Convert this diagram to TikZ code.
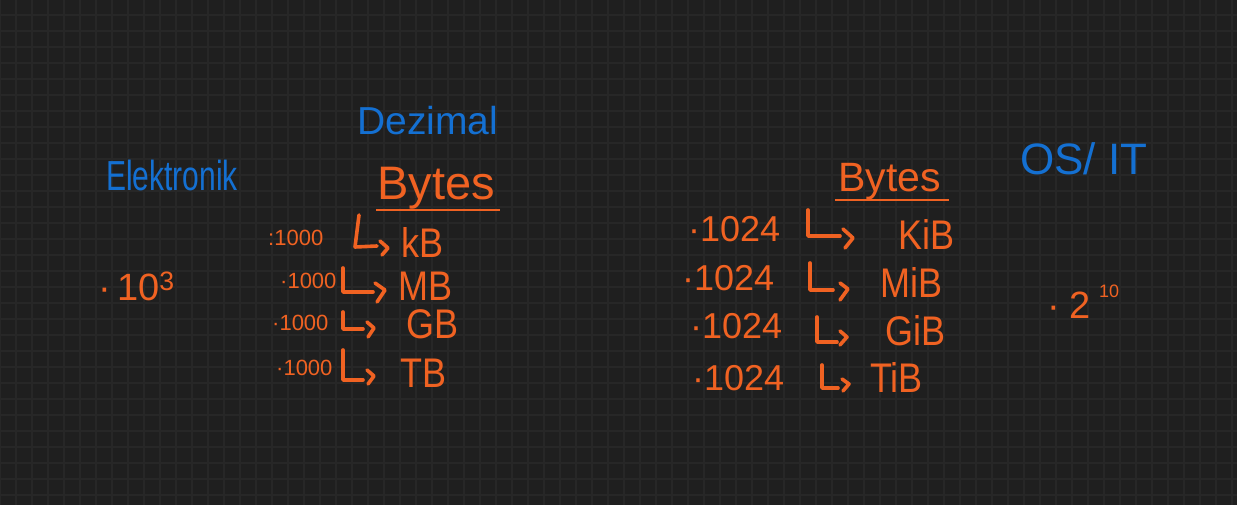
\documentclass[tikz,border=0pt]{standalone}
\usepackage{fontspec}
\setmainfont{Liberation Sans}
\usetikzlibrary{positioning}
\definecolor{board}{HTML}{1F1F1F}
\definecolor{gridline}{HTML}{272727}
\definecolor{penblue}{HTML}{1470D2}
\definecolor{penorange}{HTML}{F06222}
\newcommand\tallink[2]{\scalebox{1}[#1]{#2}}
\tikzset{
  note/.style = {inner sep=0pt, anchor=base west},
  bluenote/.style = {note, text=penblue},
  orangenote/.style = {note, text=penorange},
  unit/.style = {orangenote, font=\fontsize{36}{36}\selectfont},
  smallfac/.style = {orangenote, font=\fontsize{22}{22}\selectfont},
  bigfac/.style = {orangenote, font=\fontsize{36}{36}\selectfont},
  hookline/.style = {penorange, line width=3.6pt, line cap=round, line join=round},
  bar/.style = {penorange, line width=2pt}}

\begin{document}
\begin{tikzpicture}[x=1pt,y=-1pt]
 \useasboundingbox (0,0) rectangle (1237,505);
 \fill[board] (0,0) rectangle (1237,505);
 \foreach \gx in {0,16,...,1232}
   \draw[gridline, line width=1.5pt] (\gx,0) -- (\gx,505);
 \foreach \gy in {15,31,...,505}
   \draw[gridline, line width=1.5pt] (0,\gy) -- (1237,\gy);

 % headings
 \node[bluenote, font=\fontsize{30}{30}\selectfont] (elek) at (106,191) {\tallink{1.4}{Elektronik}};
 \node[bluenote, font=\fontsize{39}{39}\selectfont] (dez) at (357,135) {Dezimal};
 \node[bluenote, font=\fontsize{44}{44}\selectfont] (osit) at (1020,175) {OS/ IT};
 \node[orangenote, font=\fontsize{47}{47}\selectfont] (bytesdez) at (377,200) {Bytes};
 \node[orangenote, font=\fontsize{41}{41}\selectfont] (bytesos) at (838,192) {Bytes};
 \draw[bar] ([xshift=-1pt,yshift=-10pt]bytesdez.base west) -- ([xshift=5pt,yshift=-10pt]bytesdez.base east);
 \draw[bar] ([xshift=-3pt,yshift=-8pt]bytesos.base west) -- ([xshift=8pt,yshift=-8pt]bytesos.base east);

 % factors
 \node[orangenote, font=\fontsize{38}{38}\selectfont] (pow10) at (98,300) {·\,10\textsuperscript{3}};
 \node[orangenote, font=\fontsize{38}{38}\selectfont] (pow2) at (1047,318)
   {·\hspace{10pt}2\hspace{8pt}\raisebox{21pt}{\fontsize{18}{18}\selectfont 10}};

 % decimal column
 \node[smallfac] (d1num) at (268,245) {:1000};
 \node[unit] (d1unit) at (401,258) {\tallink{1.15}{kB}};
 \node[smallfac] (d2num) at (280,288) {·1000};
 \node[unit] (d2unit) at (398,300) {\tallink{1.15}{MB}};
 \node[smallfac] (d3num) at (272,330) {·1000};
 \node[unit] (d3unit) at (406,338) {\tallink{1.15}{GB}};
 \node[smallfac] (d4num) at (276,375) {·1000};
 \node[unit] (d4unit) at (400,387) {\tallink{1.15}{TB}};
 \draw[hookline] (359,215) -- (355,247) -- (377,246);
 \draw[hookline] (380,241) -- (388,248) -- (382,255);
 \draw[hookline] (343,268) |- (373,292);
 \draw[hookline] (375,283) -- (385,290) -- (377,302);
 \draw[hookline] (343,312) |- (363,329);
 \draw[hookline] (367,322) -- (374,328) -- (368,337);
 \draw[hookline] (343,350) |- (363,380);
 \draw[hookline] (367,370) -- (374,376) -- (368,384);

 % binary column
 \node[bigfac] (b1num) at (688,242) {·1024};
 \node[unit] (b1unit) at (898,250) {\tallink{1.15}{KiB}};
 \node[bigfac] (b2num) at (682,290) {·1024};
 \node[unit] (b2unit) at (880,297) {\tallink{1.15}{MiB}};
 \node[bigfac] (b3num) at (690,338) {·1024};
 \node[unit] (b3unit) at (885,345) {\tallink{1.15}{GiB}};
 \node[bigfac] (b4num) at (692,390) {·1024};
 \node[unit] (b4unit) at (870,392) {\tallink{1.15}{TiB}};
 \draw[hookline] (808,210) |- (840,236);
 \draw[hookline] (843,229) -- (853,238) -- (845,248);
 \draw[hookline] (810,263) |- (833,290);
 \draw[hookline] (840,283) -- (848,289) -- (840,300);
 \draw[hookline] (817,317) |- (837,342);
 \draw[hookline] (840,331) -- (847,337) -- (840,345);
 \draw[hookline] (822,365) |- (838,388);
 \draw[hookline] (842,379) -- (849,384) -- (843,391);
\end{tikzpicture}
\end{document}
